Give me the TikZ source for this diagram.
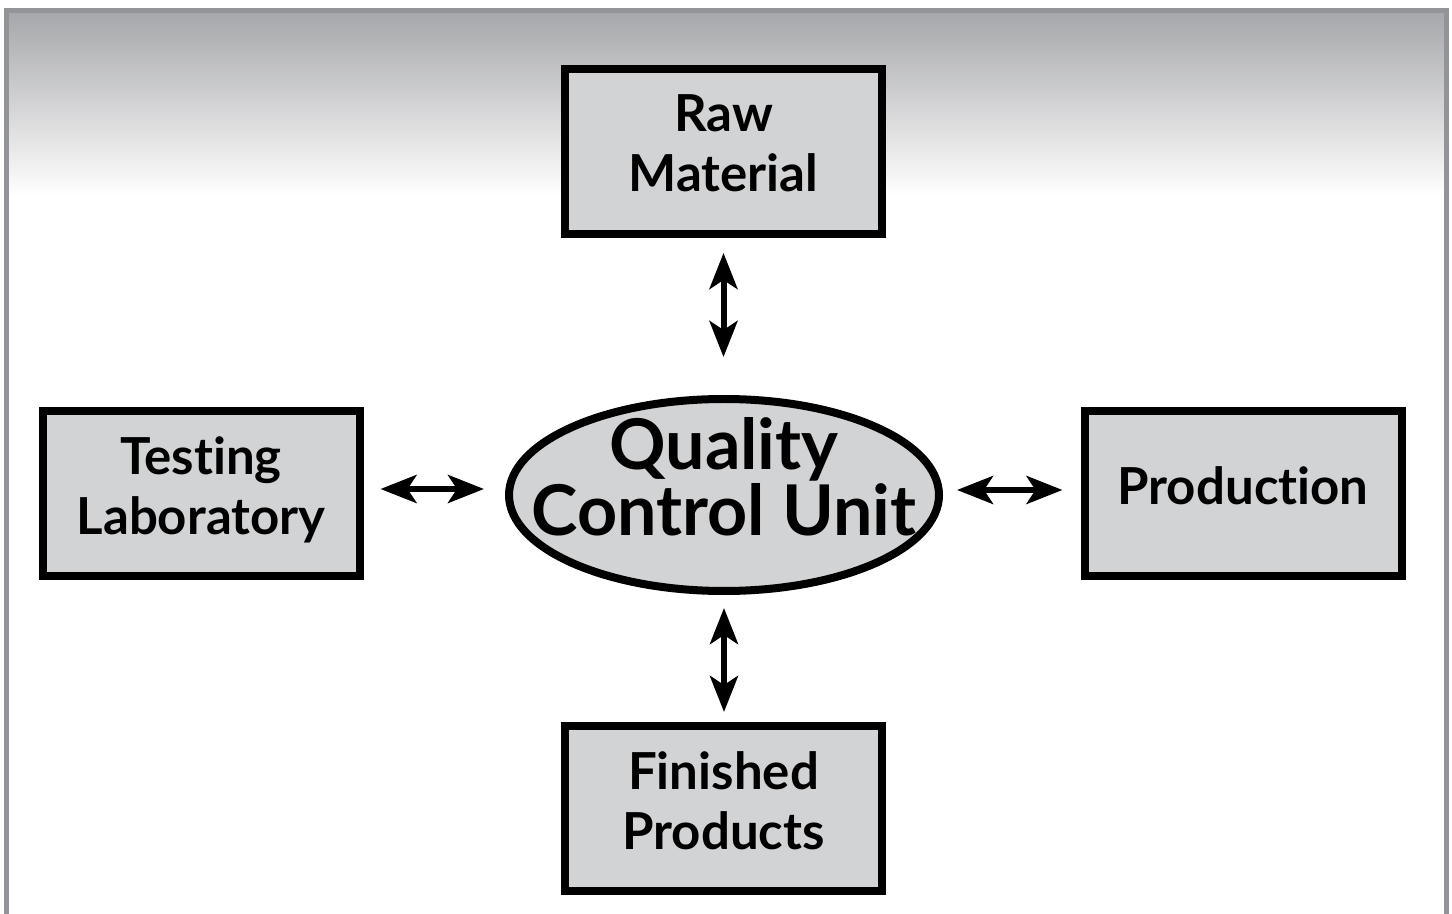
\documentclass[tikz,border=0pt]{standalone}
\usepackage{fontspec}
\setmainfont{Lato}[Ligatures=NoCommon]
\usetikzlibrary{arrows.meta, shapes.geometric}

\definecolor{framegray}{HTML}{939498}
\definecolor{shadegray}{HTML}{A7A8AB}
\definecolor{boxgray}{HTML}{D2D3D5}

\begin{document}
\begin{tikzpicture}[
        x=0.5pt, y=-0.5pt,
        unitbox/.style={draw, line width=4pt, fill=boxgray, minimum width=158.5pt,
            minimum height=82.5pt, align=center, text depth=8pt,
            font=\bfseries\fontsize{25.5}{30}\selectfont},
        unitoval/.style={ellipse, draw, line width=4pt, fill=boxgray, minimum width=215pt,
            minimum height=96pt, inner sep=0pt},
        ovaltext/.style={align=center, inner sep=0pt,
            font=\bfseries\fontsize{35}{31.5}\selectfont},
        link/.style={<->, line width=3pt},
        >={Stealth[length=18pt, width=14pt, inset=4.5pt]}]

        % --- FRAME AND BACKGROUND ---
        \useasboundingbox (0,0) rectangle (1452,914);
        \clip (0,0) rectangle (1452,914);
        \shade[top color=shadegray, bottom color=white] (9,14) rectangle (1444,196);
        \draw[framegray, line width=2.5pt] (6.5,11) rectangle (1446.5,940);

        % --- UNITS ---
        \node[unitoval, label={[ovaltext, yshift=9pt]center:{Quality\\Control Unit}}] (qcu) at (724,495) {};
        \node[unitbox] (raw) at (723.5,151.5) {Raw\\Material};
        \node[unitbox] (lab) at (201,494) {Testing\\Laboratory};
        \node[unitbox] (prod) at (1243,494) {Production};
        \node[unitbox] (fin) at (723.5,808.5) {Finished\\Products};

        % --- LINKS ---
        \draw[link, shorten <=7.5pt, shorten >=19pt] (raw.south) -- (raw.south |- qcu.north);
        \draw[link, shorten <=8.5pt, shorten >=10.5pt]
            ([yshift=2.5pt]lab.east) -- ([yshift=2.5pt]lab.east -| qcu.west);
        \draw[link, shorten <=7pt, shorten >=9pt]
            ([yshift=2.5pt]qcu.east) -- ([yshift=2.5pt]qcu.east -| prod.west);
        \draw[link, shorten <=6.5pt, shorten >=5pt] (qcu.south) -- (qcu.south |- fin.north);

    \end{tikzpicture}
\end{document}
